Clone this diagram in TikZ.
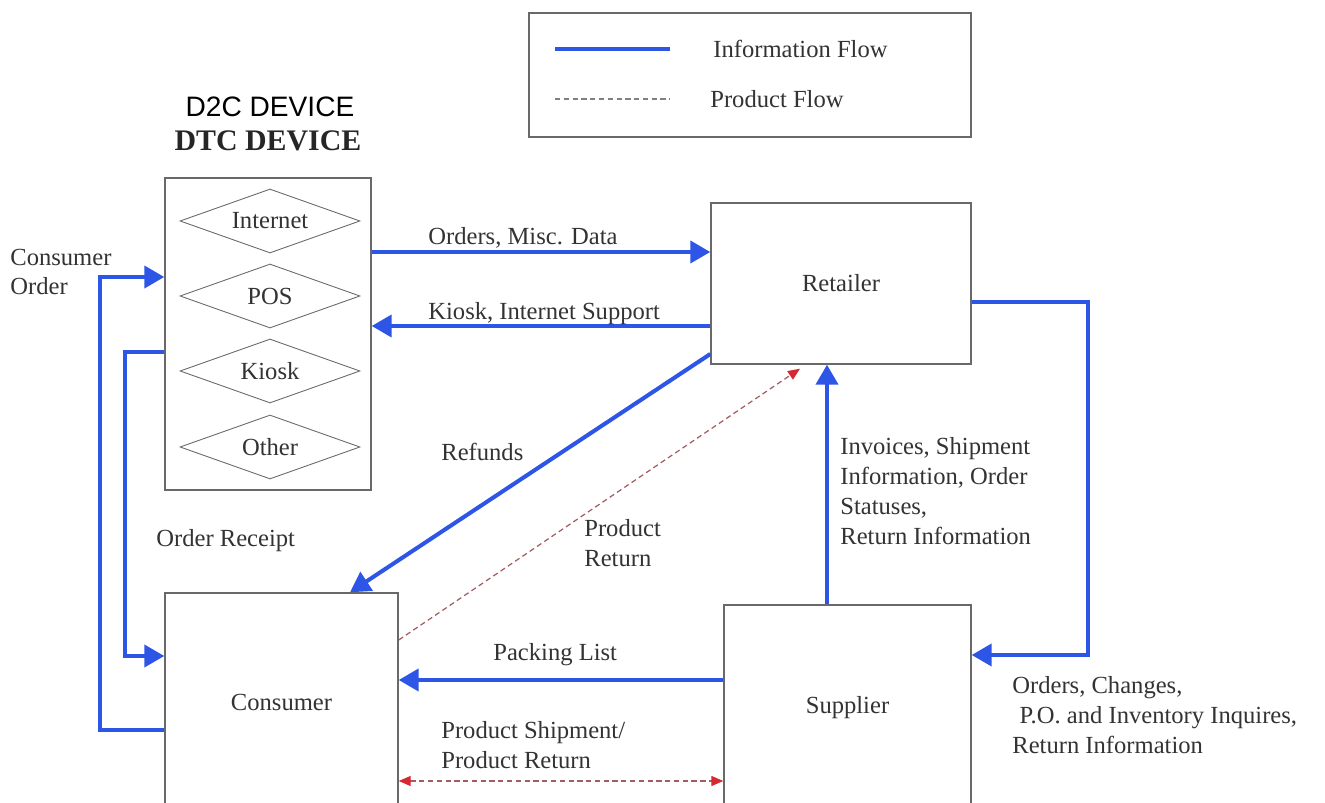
\documentclass[tikz,border=0pt]{standalone}
\usepackage{fontspec}
\setmainfont{Liberation Serif}
\newfontfamily\headsans{Liberation Sans}
\usetikzlibrary{arrows.meta,shapes.geometric}
\definecolor{infoblue}{RGB}{45,85,230}
\definecolor{prodred}{RGB}{215,40,50}
\definecolor{boxgray}{RGB}{105,105,105}
\tikzset{
  box/.style={draw=boxgray,line width=0.8pt,fill=white,inner sep=0pt,
    font=\fontsize{14}{17}\selectfont,text=black!80},
  channel/.style={diamond,aspect=2.8,draw=boxgray,line width=0.5pt,minimum width=3.6cm,
    minimum height=1.28cm,inner sep=0pt,font=\fontsize{14}{17}\selectfont,text=black!80},
  lbl/.style={font=\fontsize{14}{17}\selectfont,text=black!80,inner sep=0pt,align=left},
  info/.style={draw=infoblue,line width=2.3pt,-{Triangle[length=0.4cm,width=0.44cm]}},
  prod/.style={draw=prodred!40!gray,line width=0.7pt,dash pattern=on 3pt off 2pt,
    -{Triangle[length=0.24cm,width=0.2cm,color=prodred]}},
}
\begin{document}
\begin{tikzpicture}[x=0.02cm,y=-0.02cm]
  \useasboundingbox (0,0) rectangle (1325,803);
  \clip (0,0) rectangle (1325,803);

  % legend
  \node[box,minimum width=8.84cm,minimum height=2.48cm] (legend) at (750,75) {};
  \coordinate (leg1) at (555,49);
  \coordinate (leg2) at (670,49);
  \coordinate (leg3) at (555,99);
  \coordinate (leg4) at (670,99);
  \draw[info,-] (leg1) -- (leg2);
  \draw[prod,-,draw=gray] (leg3) -- (leg4);
  \node[lbl,anchor=west] (infotxt) at (713,49) {Information Flow};
  \node[lbl,anchor=west] (prodtxt) at (710,99) {Product Flow};

  % device box
  \node[font=\headsans\fontsize{16}{18}\selectfont] (d2c) at (270,107) {D2C DEVICE};
  \node[font=\bfseries\fontsize{17}{19}\selectfont,text=black!85] (dtctitle) at (268,141) {DTC DEVICE};
  \node[box,minimum width=4.12cm,minimum height=6.24cm] (dtc) at (268,334) {};
  \node[channel] (internet) at (270,221) {Internet};
  \node[channel] (pos) at (270,296) {POS};
  \node[channel] (kiosk) at (270,371) {Kiosk};
  \node[channel] (other) at (270,447) {Other};

  \node[box,minimum width=5.2cm,minimum height=3.22cm] (retailer) at (841,283.5) {Retailer};
  \node[box,minimum width=4.66cm,minimum height=4.36cm] (consumer) at (281.5,702) {Consumer};
  \node[box,minimum width=4.94cm,minimum height=4.12cm] (supplier) at (847.5,708) {Supplier};

  % routing points
  \coordinate (y252) at (0,252);
  \coordinate (y326) at (0,326);
  \coordinate (y354) at (0,354);
  \coordinate (y640) at (0,640);
  \coordinate (y680) at (0,680);
  \coordinate (y781) at (0,781);
  \coordinate (x350) at (350,0);
  \coordinate (x800) at (800,0);
  \coordinate (x827) at (827,0);
  \coordinate (ro1) at (1088,302);
  \coordinate (ro2) at (1088,655);
  \coordinate (co1) at (100,730);
  \coordinate (co2) at (100,277);
  \coordinate (or1) at (125,352);
  \coordinate (or2) at (125,656);

  \draw[info] (dtc.east |- y252) -- (retailer.west |- y252);
  \draw[info] (retailer.west |- y326) -- (dtc.east |- y326);
  \draw[info] (retailer.west |- y354) -- (consumer.north -| x350);
  \draw[prod] (consumer.east |- y640) -- ([yshift=-0.08cm]retailer.south -| x800);
  \draw[info] (supplier.north -| x827) -- (retailer.south -| x827);
  \draw[info] (retailer.east |- ro1) -- (ro1) -- (ro2) -- (supplier.east |- ro2);
  \draw[info] (supplier.west |- y680) -- (consumer.east |- y680);
  \draw[prod,{Triangle[length=0.24cm,width=0.2cm,color=prodred]}-{Triangle[length=0.24cm,width=0.2cm,color=prodred]}]
    (consumer.east |- y781) -- (supplier.west |- y781);
  \draw[info] (consumer.west |- co1) -- (co1) -- (co2) -- (dtc.west |- co2);
  \draw[info] (dtc.west |- or1) -- (or1) -- (or2) -- (consumer.west |- or2);

  % labels
  \node[lbl,anchor=west] (ordtxt) at (428,238) {Orders, Misc. Data};
  \node[lbl,anchor=west] (suptxt) at (428,314) {Kiosk, Internet Support};
  \node[lbl,anchor=west] (reftxt) at (441,452) {Refunds};
  \node[lbl,anchor=west] (rettxt) at (584,543) {Product\\Return};
  \node[lbl,anchor=west] (rcptxt) at (156,541) {Order Receipt};
  \node[lbl,anchor=west] (cotxt) at (10,272) {Consumer\\Order};
  \node[lbl,anchor=west] (invtxt) at (840,491) {Invoices, Shipment\\Information, Order\\Statuses,\\Return Information};
  \node[lbl,anchor=west] (chgtxt) at (1012,715) {Orders, Changes,\\\hspace{0.3em}P.O. and Inventory Inquires,\\Return Information};
  \node[lbl,anchor=west] (packtxt) at (493,655) {Packing List};
  \node[lbl,anchor=west] (shiptxt) at (441,745) {Product Shipment/\\Product Return};
\end{tikzpicture}
\end{document}
